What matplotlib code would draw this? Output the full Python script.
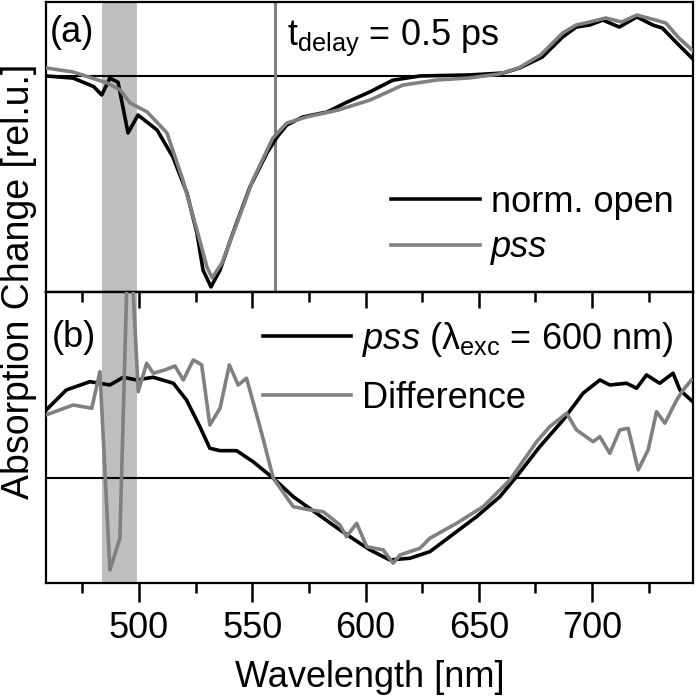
import matplotlib.pyplot as plt
import numpy as np

plt.rcParams['font.family'] = ['Liberation Sans', 'DejaVu Sans']
plt.rcParams['mathtext.fontset'] = 'custom'
plt.rcParams['mathtext.rm'] = 'Liberation Sans'
plt.rcParams['mathtext.it'] = 'Liberation Sans:italic'

# panel (a), t_delay = 0.5 ps
wl_open = [459, 471, 480, 483.6, 487.2, 490.8, 495.2, 499.6, 508, 515,
           521.2, 525.6, 528.3, 531.8, 535.8, 541.5, 549, 556.5, 561, 565.3,
           572.4, 583, 592, 602, 612, 624, 646, 660.6, 668, 678,
           687, 693, 699, 704.7, 712, 719.7, 726.7, 731, 737.4, 744.5]
open_a = [0, -1, -5, -9, -1, -3, -27, -18.5, -25.6, -38.4,
          -55.5, -74.4, -92, -100, -92, -74.4, -52.6, -36.5, -28.9, -23.2,
          -19.4, -17.1, -12.3, -7.5, -2, 0, 0.5, 1.4, 3.8, 9,
          18.5, 23.2, 24.2, 26.5, 23.2, 28, 24.2, 22.7, 15.6, 8]

wl_pss_a = [459, 471, 486, 491.7, 496.1, 503.6, 512.4, 519.4, 525.6, 530,
            532.3, 536.7, 543.3, 550.3, 559.1, 565.3, 574.1, 588.1, 602, 616.5,
            631.5, 646, 658.8, 667.6, 677.3, 687, 693, 699, 706, 713,
            719.7, 728, 732.5, 738.3, 742.7, 744.5]
pss_a = [3.8, 1.9, -3.3, -6.6, -12.8, -17, -27, -49.3, -73, -90.5,
         -95.7, -88.6, -69.7, -49.3, -29.4, -22.3, -19.4, -16.1, -11.4, -4.3,
         -1.9, -0.9, 0.9, 3.8, 10, 20.4, 24.2, 25.6, 27.5, 25.6,
         28.9, 26.5, 25.1, 18, 13.7, 12]

# panel (b), pss at 600 nm excitation and the difference spectrum
wl_pss_b = [459, 468, 478.4, 487.2, 493.1, 499, 506.3, 515.2, 521, 526.9,
            531.3, 535.8, 543.1, 550.4, 559.3, 568.1, 578.4, 588.7, 597.5, 602,
            610.7, 619.6, 628.4, 637.2, 649, 659.3, 666.6, 676.9, 687.2, 696,
            703.4, 707.8, 715.2, 719.6, 724, 729.8, 735.7, 738.7, 744.5]
pss_b = [82, 106.6, 116.6, 112.6, 122, 118.7, 122, 114.7, 94.4, 62,
         35.7, 32.8, 32.8, 19.4, -0.7, -23.1, -43.3, -63.5, -79.7, -87.8,
         -100, -97.9, -89.9, -71.7, -47.4, -23.1, 1.2, 37.7, 70.1, 102.6,
         118.7, 112.6, 114.7, 108.6, 124.8, 114.7, 126.9, 106.6, 92]

wl_diff = [459, 471, 479.2, 482.8, 487.2, 491.6, 495.6, 499.7, 503.4, 506.3,
           511.5, 515.9, 519.6, 524, 527.7, 531.3, 535.8, 539.9, 543.8, 547.5,
           553.4, 559.3, 568.1, 575.5, 581.3, 588.7, 591.6, 596.1, 600.5, 607.8,
           612.2, 615.2, 624, 628.4, 640.2, 651.9, 663.7, 675.5, 681.3, 688.7,
           693.1, 700.4, 703.4, 707.8, 712.2, 715.9, 720.3, 724.7, 728.4, 732.1,
           737.3, 740.2, 743.8]
diff_b = [76.2, 88.3, 84.3, 128.8, -112.2, -73.6, 329, 104.5, 139, 126.9,
          130.9, 135.7, 118.7, 143, 137, 64, 84.3, 137, 112.6, 120.8,
          62, -0.7, -35.2, -39.2, -41.3, -57.5, -71.7, -55.4, -83.8, -87.8,
          -104, -93.9, -85.8, -73.6, -55.4, -35.2, -2.8, 43.7, 62, 78.2,
          58, 43.7, 49.8, 29.6, 58, 60, 9.4, 33.7, 80.2, 66.1,
          94.4, 106.6, 118.7]

band = (483.5, 499.2)
t_line = 560
gray = '#808080'
fs = 26
lw = 2.6
major = np.arange(500, 701, 50)
minor = np.arange(475, 745, 50)

fig = plt.figure(figsize=(7, 6.97), dpi=100)
ax1 = fig.add_axes([0.0657, 0.5811, 0.9243, 0.4161])
ax2 = fig.add_axes([0.0657, 0.1640, 0.9243, 0.4171])

for ax in (ax1, ax2):
    ax.axvspan(*band, color='#bfbfbf', lw=0, zorder=0)
    ax.axhline(0, color='black', lw=1.5, zorder=1)
    ax.set_xlim(459, 744.5)
    ax.set_yticks([])
    for s in ax.spines.values():
        s.set_linewidth(1.6)

# (a)
ax1.set_xticks([])
ax1.axvline(t_line, color=gray, lw=2.2, zorder=1)
l1, = ax1.plot(wl_open, open_a, color='black', lw=lw, zorder=2, label='norm. open')
l2, = ax1.plot(wl_pss_a, pss_a, color=gray, lw=lw, zorder=3, label='pss')
ax1.set_ylim(-102.4, 35.1)
ax1.text(0.006, 0.862, '(a)', transform=ax1.transAxes, fontsize=fs, va='baseline')
ax1.text(0.372, 0.852, r't$_{\mathrm{delay}}$ = 0.5 ps', transform=ax1.transAxes,
         fontsize=fs, va='baseline')
leg1 = ax1.legend(loc='upper left', bbox_to_anchor=(0.534, 0.37), frameon=False,
                  fontsize=fs, handlelength=2.45, handletextpad=0.3,
                  borderpad=0, borderaxespad=0, labelspacing=0.3)
leg1.get_texts()[1].set_style('italic')

# (b)
l3, = ax2.plot(wl_pss_b, pss_b, color='black', lw=lw, zorder=2,
               label=r'$\mathit{pss}$ (λ$_{\mathrm{exc}}$ = 600 nm)')
l4, = ax2.plot(wl_diff, diff_b, color=gray, lw=lw, zorder=3, label='Difference')
ax2.set_ylim(-127.6, 225.6)
ax2.set_xticks(major)
ax2.set_xticks(minor, minor=True)
ax2.tick_params(axis='x', which='both', direction='out', width=1.8, labelsize=fs, pad=7)
ax2.tick_params(axis='x', which='major', length=13.5)
ax2.tick_params(axis='x', which='minor', length=7.5)

# inward ticks along the shared edge between the panels
top = ax2.secondary_xaxis('top')
top.set_xticks(major)
top.set_xticks(minor, minor=True)
top.tick_params(axis='x', which='both', direction='in', width=1.8, labeltop=False)
top.tick_params(axis='x', which='major', length=11.5)
top.tick_params(axis='x', which='minor', length=7)
top.spines['top'].set_linewidth(1.6)

ax2.text(0.009, 0.812, '(b)', transform=ax2.transAxes, fontsize=fs, va='baseline')
ax2.legend(loc='upper left', bbox_to_anchor=(0.335, 0.905), frameon=False,
           fontsize=fs, handlelength=2.45, handletextpad=0.3,
           borderpad=0, borderaxespad=0, labelspacing=0.62)
ax2.set_xlabel('Wavelength [nm]', fontsize=26, labelpad=10)

fig.text(0.027, 0.597, 'Absorption Change [rel.u.]', rotation=90, fontsize=27,
         ha='center', va='center')

fig.savefig('out.png', dpi=100)
